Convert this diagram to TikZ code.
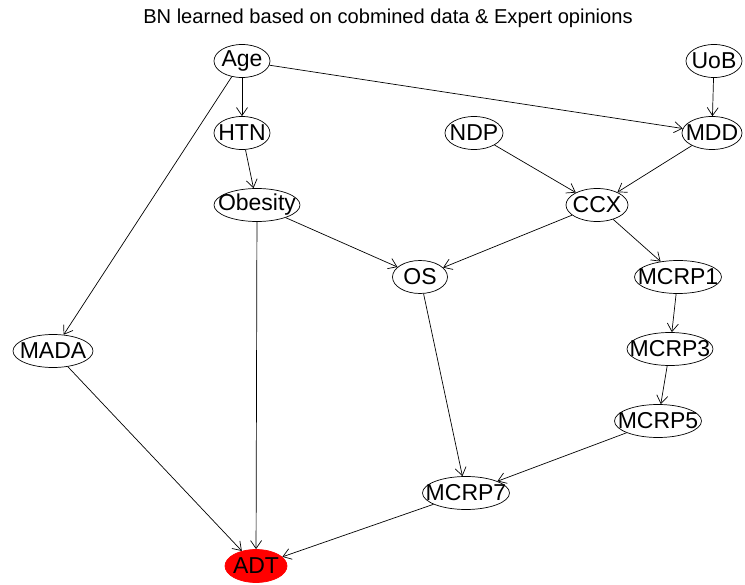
\documentclass[tikz,border=0pt]{standalone}
\usepackage{fontspec}
\setmainfont{Liberation Sans}
\usetikzlibrary{shapes.geometric,arrows.meta}

\newcommand{\lbl}[1]{\makebox[0pt]{#1}}
\tikzset{
  bn/.style = {draw, ellipse, inner sep = 0pt, minimum height = 33pt,
               minimum width = #1, font = \fontsize{23}{23}\selectfont},
}

\begin{document}
\begin{tikzpicture}[x = 1pt, y = -1pt, line width = .7pt,
                    >={Straight Barb[length = 8pt, width = 11pt]}]
    \useasboundingbox (0, 0) rectangle (745, 585);
    \node (title) at (388, 18) [font = \fontsize{20.1}{20.1}\selectfont]
      {BN learned based on cobmined data \& Expert opinions};

    \node (Age)     at (242,  61) [bn = 56pt] {\lbl{Age}};
    \node (UoB)     at (714,  61) [bn = 56pt] {\lbl{UoB}};
    \node (HTN)     at (242, 133) [bn = 56pt] {\lbl{HTN}};
    \node (NDP)     at (474, 133) [bn = 58pt] {\lbl{NDP}};
    \node (MDD)     at (712, 133) [bn = 60pt] {\lbl{MDD}};
    \node (Obesity) at (257, 205) [bn = 86pt] {\lbl{Obesity}};
    \node (CCX)     at (597, 205) [bn = 62pt] {\lbl{CCX}};
    \node (OS)      at (420, 277) [bn = 55pt] {\lbl{OS}};
    \node (MCRP1)   at (678, 277) [bn = 87pt] {\lbl{MCRP1}};
    \node (MADA)    at ( 53, 351) [bn = 80pt] {\lbl{MADA}};
    \node (MCRP3)   at (670, 349) [bn = 86pt] {\lbl{MCRP3}};
    \node (MCRP5)   at (658, 421) [bn = 87pt] {\lbl{MCRP5}};
    \node (MCRP7)   at (466, 493) [bn = 87pt] {\lbl{MCRP7}};
    \node (ADT)     at (256, 566) [bn = 62pt, draw = red, fill = red] {\lbl{ADT}};

    \draw [->] (Age)--(HTN);
    \draw [->] (Age)--(MDD);
    \draw [->] (Age)--(MADA);
    \draw [->] (UoB)--(MDD);
    \draw [->] (HTN)--(Obesity);
    \draw [->] (NDP)--(CCX);
    \draw [->] (MDD)--(CCX);
    \draw [->] (Obesity)--(OS);
    \draw [->] (Obesity)--(ADT);
    \draw [->] (CCX)--(OS);
    \draw [->] (CCX)--(MCRP1);
    \draw [->] (MCRP1)--(MCRP3);
    \draw [->] (MCRP3)--(MCRP5);
    \draw [->] (MCRP5)--(MCRP7);
    \draw [->] (OS)--(MCRP7);
    \draw [->] (MCRP7)--(ADT);
    \draw [->] (MADA)--(ADT);
\end{tikzpicture}
\end{document}
